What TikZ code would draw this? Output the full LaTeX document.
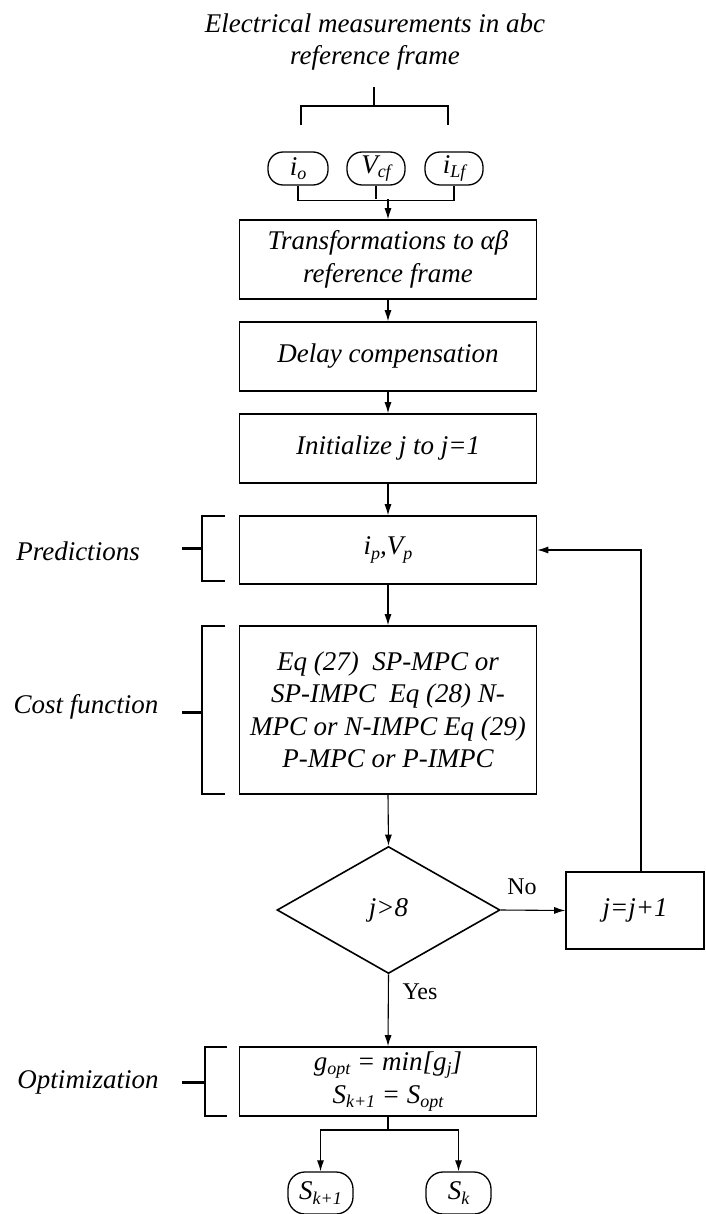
\documentclass[tikz,border=0pt]{standalone}
\usepackage{fontspec}
\setmainfont{Liberation Serif}
\usetikzlibrary{arrows.meta,shapes.geometric}
\newcommand\lo[1]{\raisebox{-0.35ex}{\fontsize{18}{18}\selectfont #1}}
\begin{document}
\begin{tikzpicture}[x=1pt,y=-1pt,
  every node/.style={font=\fontsize{27}{32.5}\selectfont\itshape, inner sep=0pt},
  box/.style={draw, line width=1.6pt, minimum width=297pt, align=center},
  pill/.style={draw, line width=1.3pt, rounded corners=15pt, minimum height=33pt},
  conn/.style={line width=1.1pt},
  arr/.style={conn, -{Latex[length=11pt,width=7pt]}},
  brk/.style={line width=1.6pt},
  tick/.style={line width=3pt},
  plain/.style={font=\fontsize{24}{28}\selectfont\upshape}]
\useasboundingbox (0,0) rectangle (705,1214);
% title
\node[align=center] (title) at (375,42) {Electrical measurements in abc\\reference frame};
\coordinate (tb) at (374,87);
\coordinate (tj) at (374,106);
\coordinate (tl) at (301,125);
\coordinate (tr) at (448,125);
\draw[conn] (tb) -- (tj);
\draw[conn] (tl) |- (tj) -| (tr);
% pills
\node[pill, minimum width=60pt] (io) at (298,168.5) {i\lo{o}};
\node[pill, minimum width=58pt] (vcf) at (376,168.5) {V\lo{cf}};
\node[pill, minimum width=58pt] (ilf) at (454,168.5) {i\lo{Lf}};
\coordinate (mj) at (388,199);
\draw[conn] (io.south) -- ++(0,14.5) -| (ilf.south);
\draw[conn] (vcf.south) -- (vcf.south |- mj);
% boxes
\node[box, minimum height=79pt] (trans) at (388,259.5) {Transformations to αβ\\reference frame};
\node[box, minimum height=69pt] (delay) at (388,356.5) {Delay compensation};
\node[box, minimum height=69pt] (init) at (388,448.5) {Initialize j to j=1};
\node[box, minimum height=68pt] (pred) at (388,550) {i\lo{p},V\lo{p}};
\node[box, minimum height=168pt] (cost) at (388,710) {Eq (27)\ \ SP-MPC or\\SP-IMPC\ \ Eq (28) N-\\MPC or N-IMPC Eq (29)\\P-MPC or P-IMPC};
\node[draw, diamond, line width=1.6pt, aspect=1.76, minimum width=223pt, minimum height=127pt] (dec) at (388.5,910) {j>8};
\node[box, minimum width=138pt, minimum height=77pt] (inc) at (635,910.5) {j=j+1};
\node[box, minimum height=69pt, align=center] (opt) at (388,1081.5) {g\lo{opt} = min[g\lo{j}]\\S\lo{k+1} = S\lo{opt}};
\node[pill, minimum width=65pt, minimum height=42pt, rounded corners=17pt] (sk1) at (320.5,1193) {S\lo{k+1}};
\node[pill, minimum width=65pt, minimum height=42pt, rounded corners=17pt] (sk) at (458.5,1193) {S\lo{k}};
% arrows
\draw[arr] (mj) -- (trans.north);
\draw[arr] (trans) -- (delay);
\draw[arr] (delay) -- (init);
\draw[arr] (init) -- (pred);
\draw[arr] (pred) -- (cost);
\draw[arr] (cost.south) -- (dec.north);
\draw[arr] (dec.east) -- (inc.west);
\draw[arr] (inc.north -| 641,0) |- (pred.east);
\draw[arr] (dec.south) -- (opt.north);
\coordinate (bj) at (388,1130);
\draw[conn] (opt.south) -- (bj);
\draw[arr] (bj) -| (sk1.north);
\draw[arr] (bj) -| (sk.north);
\node[plain] (no) at (522,887) {No};
\node[plain] (yes) at (420,992) {Yes};
% side labels and brackets
\node (lpred) at (78,551) {Predictions};
\node (lcost) at (86,707) {Cost function};
\node (lopt) at (88,1082) {Optimization};
\draw[brk] (225,516) -- (202,516) -- (202,581) -- (225,581);
\draw[tick] (182,548) -- (202,548);
\draw[brk] (225,626) -- (202,626) -- (202,794) -- (225,794);
\draw[tick] (182,712) -- (202,712);
\draw[brk] (227,1047) -- (205,1047) -- (205,1116) -- (227,1116);
\draw[tick] (182,1082) -- (205,1082);
\end{tikzpicture}
\end{document}
